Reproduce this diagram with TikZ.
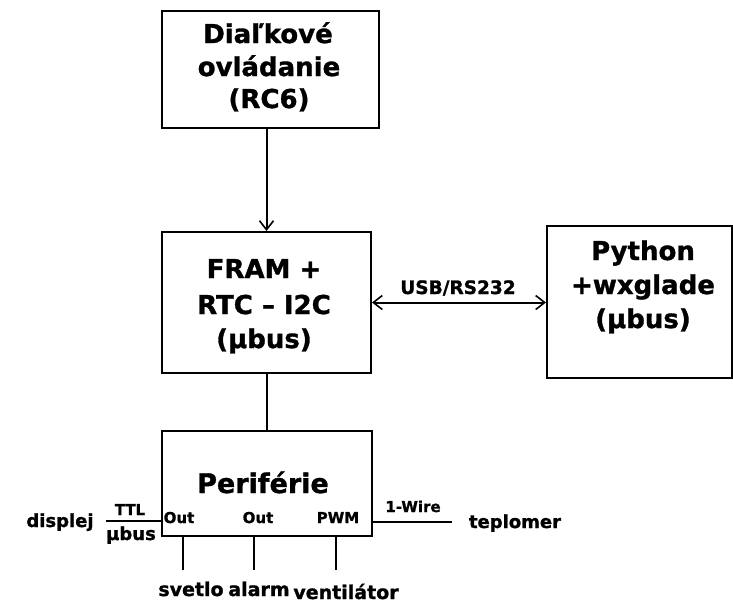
\documentclass[tikz,border=0pt]{standalone}
\usepackage{fontspec}
\setmainfont{DejaVu Sans}
\newfontfamily\heavy{DejaVu Sans Bold}[FakeBold=1.2]
\usetikzlibrary{arrows.meta}
\begin{document}
\begin{tikzpicture}[x=1pt,y=-1pt,
  line width=2pt,
  >={Straight Barb[length=9pt,width=14pt,line width=1.6pt]},
  blockbox/.style={draw,rectangle,inner sep=0pt,anchor=north west},
  bigtxt/.style={font=\heavy\fontsize{26}{34}\selectfont,align=center,anchor=base,inner sep=0pt},
  pintxt/.style={font=\heavy\fontsize{15}{18}\selectfont,anchor=base,inner sep=0pt},
  sidetxt/.style={font=\heavy\fontsize{18}{22}\selectfont,anchor=base,inner sep=0pt},
  devtxt/.style={font=\heavy\fontsize{19}{22}\selectfont,anchor=base,inner sep=0pt}]
\useasboundingbox (0,0) rectangle (733,603);

% blocks
\node[blockbox,minimum width=217pt,minimum height=117pt] (dial) at (161,10) {};
\node[blockbox,minimum width=209pt,minimum height=141pt] (fram) at (161,231) {};
\node[blockbox,minimum width=185pt,minimum height=152pt] (py) at (546,225) {};
\node[blockbox,minimum width=210pt,minimum height=105pt] (per) at (161,430) {};

% block texts
\node[bigtxt] (dialA) at (268,43) {Diaľkové};
\node[bigtxt] (dialB) at (269,76) {ovládanie};
\node[bigtxt] (dialC) at (269,108) {(RC6)};
\node[bigtxt] (framA) at (264,278) {FRAM +};
\node[bigtxt] (framB) at (264,314) {RTC – I2C};
\node[bigtxt] (framC) at (264,348) {(µbus)};
\node[bigtxt] (pyA) at (643,260) {Python};
\node[bigtxt] (pyB) at (643,294) {+wxglade};
\node[bigtxt] (pyC) at (643,328) {(µbus)};
\node[bigtxt,font=\heavy\fontsize{27}{30}\selectfont] (perT) at (263,493) {Periférie};

% connectors between blocks
\draw[->] (fram.north |- dial.south) -- (fram.north);
\draw[<->] (fram.east) -- (fram.east -| py.west);
\draw (fram.south) -- (fram.south |- per.north);
\node[pintxt,font=\heavy\fontsize{18.5}{22}\selectfont] (usb) at (458,294) {USB/RS232};

% port labels inside the peripheral block
\node[pintxt] (out1) at (179,523) {Out};
\node[pintxt] (out2) at (258,523) {Out};
\node[pintxt] (pwm) at (338,523) {PWM};

% outputs below the peripheral block
\coordinate (e1) at (183,570);
\coordinate (e2) at (254,570);
\coordinate (e3) at (336,570);
\draw (e1 |- per.south) -- (e1);
\draw (e2 |- per.south) -- (e2);
\draw (e3 |- per.south) -- (e3);
\node[devtxt] (svetlo) at (191,596) {svetlo};
\node[devtxt] (alarm) at (259,596) {alarm};
\node[devtxt] (vent) at (346,599) {ventilátor};

% display bus on the left
\coordinate (dl) at (106,521);
\draw (per.west |- dl) -- (dl);
\node[pintxt] (ttl) at (130,515) {TTL};
\node[sidetxt] (ubus) at (131,540) {µbus};
\node[sidetxt] (displej) at (60,527) {displej};

% thermometer on the right
\coordinate (tr) at (452,522);
\draw (per.east |- tr) -- (tr);
\node[pintxt] (wire) at (413,512) {1-Wire};
\node[sidetxt] (tepl) at (515,528) {teplomer};
\end{tikzpicture}
\end{document}
